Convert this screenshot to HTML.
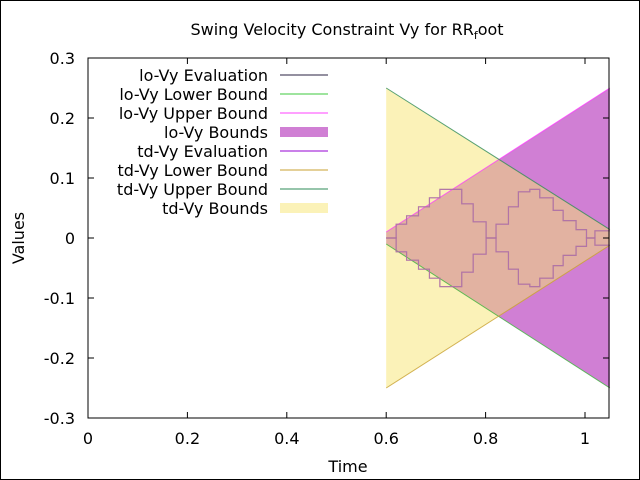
<!DOCTYPE html>
<html><head><meta charset="utf-8"><style>
html,body{margin:0;padding:0;background:#fff}
svg{display:block;font-family:"DejaVu Sans","Liberation Sans",sans-serif}
</style></head><body>
<svg id="c" width="640" height="480">
<rect x="0.5" y="0.5" width="639" height="479" fill="#fff" stroke="#000"/>
<defs><clipPath id="loclip"><polygon id="loclipPoly"/></clipPath></defs>
<g id="plot"></g>
<text x="347" y="35" text-anchor="middle" font-size="16">Swing Velocity Constraint Vy for RR<tspan dy="4" font-size="11">f</tspan><tspan dy="-4">oot</tspan></text>
<text x="348" y="472" text-anchor="middle" font-size="16">Time</text>
<text x="24" y="238" text-anchor="middle" font-size="16" transform="rotate(-90 24 238)">Values</text>
<g id="axes"></g>
<g id="legend"></g>
</svg>
<script>
const xTicks=[0,0.2,0.4,0.6,0.8,1];
const yTicks=[-0.3,-0.2,-0.1,0,0.1,0.2,0.3];
const boundTime=[0.6,1.05];
const loUpper=[0.01,0.25];
const loLower=[-0.01,-0.25];
const tdUpper=[0.25,0.014];
const tdLower=[-0.25,-0.012];
const evalTime=[0.6,0.62,0.641,0.665,0.687,0.708,0.729,0.752,0.775,0.801,0.821,0.846,0.866,0.889,0.909,0.936,0.956,0.982,1.003,1.02,1.05];
const evalUpper=[0,0.023,0.037,0.052,0.067,0.081,0.081,0.057,0.027,0,0.023,0.052,0.077,0.081,0.067,0.046,0.029,0.014,0,0.012,0.012];
const evalLower=[0,-0.023,-0.037,-0.052,-0.067,-0.081,-0.081,-0.057,-0.027,0,-0.023,-0.052,-0.077,-0.081,-0.067,-0.046,-0.029,-0.014,0,-0.012,-0.012];
const X0=88,X1=609,Y0=58,Y1=418;
const sx=v=>X0+v*(585-88);
const sy=v=>238-v*600;
const NS="http://www.w3.org/2000/svg";
function mk(t,p,a){const e=document.createElementNS(NS,t);for(const k in a)e.setAttribute(k,a[k]);p.appendChild(e);return e;}
const plot=document.getElementById('plot'),axes=document.getElementById('axes'),leg=document.getElementById('legend');
function band(u,l){let p=[];for(let i=0;i<boundTime.length;i++)p.push(sx(boundTime[i])+','+sy(u[i]));for(let i=boundTime.length-1;i>=0;i--)p.push(sx(boundTime[i])+','+sy(l[i]));return p.join(' ');}
function line(t,v){return t.map((x,i)=>sx(x)+','+sy(v[i])).join(' ');}
function step(t,v){let p=[];for(let i=0;i<t.length;i++){if(i>0)p.push(sx(t[i])+','+sy(v[i-1]));p.push(sx(t[i])+','+sy(v[i]));}return p.join(' ');}
let e;
e=mk('polygon',plot,{points:band(loUpper,loLower),fill:'#d07fd4'});


e=mk('polygon',plot,{points:band(tdUpper,tdLower),fill:'#fbf2b8'});


document.getElementById('loclipPoly').setAttribute('points',band(loUpper,loLower));
e=mk('polygon',plot,{points:band(tdUpper,tdLower),fill:'#e2b2a1','clip-path':'url(#loclip)'});


const lines=[[loLower,'#3cb43c','lo-vy-lower-bound-line'],[loUpper,'#ff3cff','lo-vy-upper-bound-line'],[tdLower,'#c8a030','td-vy-lower-bound-line'],[tdUpper,'#2e8b57','td-vy-upper-bound-line']];
lines.forEach(l=>{e=mk('polyline',plot,{points:line(boundTime,l[0]),fill:'none',stroke:l[1],'stroke-width':1,opacity:0.8});

});
[[evalUpper,'eval-upper'],[evalLower,'eval-lower']].forEach(s=>{
e=mk('polyline',plot,{points:step(evalTime,s[0]),fill:'none',stroke:'#a0708a','stroke-width':1.2,opacity:0.9});


e=mk('polyline',plot,{points:step(evalTime,s[0]),fill:'none',stroke:'#c070c8','stroke-width':1,opacity:0.5});

});
e=mk('rect',axes,{x:X0,y:Y0,width:X1-X0,height:Y1-Y0,fill:'none',stroke:'#000','stroke-width':1});


xTicks.forEach(v=>{const x=sx(v);
mk('line',axes,{x1:x,x2:x,y1:Y1,y2:Y1-6,stroke:'#000'});mk('line',axes,{x1:x,x2:x,y1:Y0,y2:Y0+6,stroke:'#000'});
e=mk('text',axes,{x:x,y:444,'text-anchor':'middle','font-size':16});e.textContent=String(v);

});
yTicks.forEach(v=>{const y=sy(v);
mk('line',axes,{x1:X0,x2:X0+6,y1:y,y2:y,stroke:'#000'});mk('line',axes,{x1:X1,x2:X1-6,y1:y,y2:y,stroke:'#000'});
e=mk('text',axes,{x:75,y:y+6,'text-anchor':'end','font-size':16});e.textContent=String(v);

});
const legItems=[['lo-Vy Evaluation','#2a2040','l'],['lo-Vy Lower Bound','#3cc83c','l'],['lo-Vy Upper Bound','#ff40ff','l'],['lo-Vy Bounds','#d07fd4','b'],['td-Vy Evaluation','#9400d3','l'],['td-Vy Lower Bound','#c8a030','l'],['td-Vy Upper Bound','#2e8b57','l'],['td-Vy Bounds','#fbf2b8','b']];
legItems.forEach((it,i)=>{const y=75+i*19;
e=mk('text',leg,{x:268,y:y+6,'text-anchor':'end','font-size':16});e.textContent=it[0];


if(it[2]==='l')mk('line',leg,{x1:280,x2:328,y1:y,y2:y,stroke:it[1]});
else mk('rect',leg,{x:280,y:y-5,width:48,height:10,fill:it[1]});});
</script>
</body></html>
